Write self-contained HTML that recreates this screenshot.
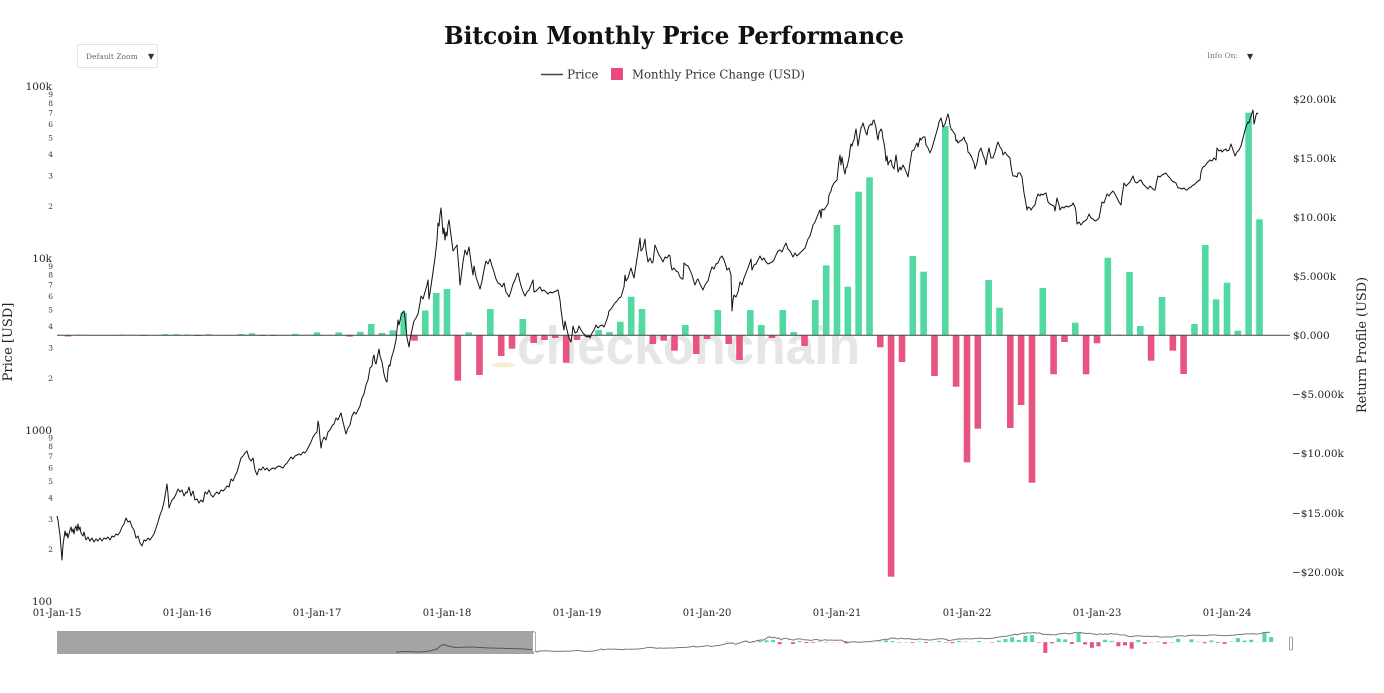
<!DOCTYPE html>
<html><head><meta charset="utf-8"><style>
html,body{margin:0;padding:0;background:#fff;overflow:hidden;}
svg{display:block;font-family:"DejaVu Serif","Liberation Serif",serif;}
</style></head><body>
<svg width="1384" height="693" viewBox="0 0 1384 693" xmlns="http://www.w3.org/2000/svg">
<rect width="1384" height="693" fill="#fff"/>
<!-- Title -->
<text x="444" y="44" font-size="24" font-weight="bold" fill="#111" textLength="460" lengthAdjust="spacingAndGlyphs">Bitcoin Monthly Price Performance</text>
<!-- Default zoom dropdown -->
<rect x="77.5" y="44.5" width="80" height="23" rx="2" fill="#fff" stroke="#e2e2e2"/>
<text x="86" y="59" font-size="7.5" fill="#666">Default Zoom</text>
<text x="148" y="59" font-size="8" fill="#333">▼</text>
<!-- Info On -->
<text x="1207" y="58" font-size="7.5" fill="#777">Info On:</text>
<text x="1247" y="59" font-size="8" fill="#333">▼</text>
<!-- Legend -->
<line x1="541" y1="74.5" x2="563" y2="74.5" stroke="#444" stroke-width="1.5"/>
<text x="567" y="78.5" font-size="12" fill="#333">Price</text>
<rect x="611" y="68" width="12" height="12" rx="1" fill="#e8497a"/>
<text x="632" y="78.5" font-size="12" fill="#333" textLength="173" lengthAdjust="spacingAndGlyphs">Monthly Price Change (USD)</text>

<!-- Watermark -->
<ellipse cx="503" cy="365" rx="12" ry="2.5" fill="#f4e7bd" opacity="0.7"/>
<text x="517" y="364" font-family="Liberation Sans, sans-serif" font-weight="bold" font-size="54" fill="#e6e6e6" textLength="343" lengthAdjust="spacingAndGlyphs">checkonchain</text>

<!-- Left axis labels -->
<g font-size="10.5" fill="#222" text-anchor="end">
<text x="52" y="90">100k</text>
<text x="52" y="262">10k</text>
<text x="52" y="434">1000</text>
<text x="52" y="605">100</text>
</g>
<g font-size="7.5" fill="#333" text-anchor="end">
<text x="53" y="97">9</text><text x="53" y="106">8</text><text x="53" y="115.5">7</text><text x="53" y="127">6</text><text x="53" y="140.5">5</text><text x="53" y="157">4</text><text x="53" y="178.5">3</text><text x="53" y="209">2</text>
<text x="53" y="269">9</text><text x="53" y="277.5">8</text><text x="53" y="287.5">7</text><text x="53" y="299">6</text><text x="53" y="312.5">5</text><text x="53" y="329">4</text><text x="53" y="350.5">3</text><text x="53" y="381">2</text>
<text x="53" y="440.5">9</text><text x="53" y="449">8</text><text x="53" y="459">7</text><text x="53" y="470.5">6</text><text x="53" y="484">5</text><text x="53" y="500.5">4</text><text x="53" y="522">3</text><text x="53" y="552">2</text>
</g>
<text transform="translate(12,342) rotate(-90)" font-size="13" fill="#222" text-anchor="middle">Price [USD]</text>

<!-- Right axis labels -->
<g font-size="10.5" fill="#222">
<text x="1293" y="103">$20.00k</text>
<text x="1293" y="162">$15.00k</text>
<text x="1293" y="221">$10.00k</text>
<text x="1293" y="280">$5.000k</text>
<text x="1293" y="339">$0.000</text>
<text x="1292" y="398">−$5.000k</text>
<text x="1292" y="457">−$10.00k</text>
<text x="1292" y="517">−$15.00k</text>
<text x="1292" y="576">−$20.00k</text>
</g>
<text transform="translate(1366,345) rotate(-90)" font-size="13" fill="#222" text-anchor="middle" textLength="136" lengthAdjust="spacingAndGlyphs">Return Profile (USD)</text>

<!-- X axis labels -->
<g font-size="10" fill="#222" text-anchor="middle">
<text x="57" y="616">01-Jan-15</text>
<text x="187" y="616">01-Jan-16</text>
<text x="317" y="616">01-Jan-17</text>
<text x="447" y="616">01-Jan-18</text>
<text x="577" y="616">01-Jan-19</text>
<text x="707" y="616">01-Jan-20</text>
<text x="837" y="616">01-Jan-21</text>
<text x="967" y="616">01-Jan-22</text>
<text x="1097" y="616">01-Jan-23</text>
<text x="1227" y="616">01-Jan-24</text>
</g>

<defs>
<g id="bars">
<g fill="#52d9a2">
<rect x="75.4" y="334.6" width="6.6" height="0.7"/>
<rect x="118.7" y="334.6" width="6.6" height="0.7"/>
<rect x="129.5" y="334.8" width="6.6" height="0.5"/>
<rect x="162.0" y="334.1" width="6.6" height="1.2"/>
<rect x="172.9" y="334.2" width="6.6" height="1.1"/>
<rect x="183.7" y="334.4" width="6.6" height="0.9"/>
<rect x="205.4" y="334.2" width="6.6" height="1.1"/>
<rect x="227.0" y="334.9" width="6.6" height="0.4"/>
<rect x="237.9" y="334.0" width="6.6" height="1.3"/>
<rect x="248.7" y="333.3" width="6.6" height="2"/>
<rect x="281.2" y="334.9" width="6.6" height="0.4"/>
<rect x="292.0" y="333.9" width="6.6" height="1.4"/>
<rect x="302.9" y="334.8" width="6.6" height="0.5"/>
<rect x="313.7" y="332.4" width="6.6" height="2.9"/>
<rect x="335.4" y="332.4" width="6.6" height="2.9"/>
<rect x="357.0" y="331.8" width="6.6" height="3.5"/>
<rect x="367.9" y="324" width="6.6" height="11.3"/>
<rect x="378.7" y="332.9" width="6.6" height="2.4"/>
<rect x="389.5" y="330.3" width="6.6" height="5"/>
<rect x="400.4" y="312.7" width="6.6" height="22.6"/>
<rect x="422.0" y="310.5" width="6.6" height="24.8"/>
<rect x="432.9" y="293" width="6.6" height="42.3"/>
<rect x="443.7" y="289" width="6.6" height="46.3"/>
<rect x="465.4" y="332.3" width="6.6" height="3"/>
<rect x="487.0" y="309" width="6.6" height="26.3"/>
<rect x="519.5" y="319" width="6.6" height="16.3"/>
<rect x="595.4" y="330" width="6.6" height="5.3"/>
<rect x="606.2" y="332" width="6.6" height="3.3"/>
<rect x="617.0" y="321.7" width="6.6" height="13.6"/>
<rect x="627.9" y="296.7" width="6.6" height="38.6"/>
<rect x="638.7" y="309" width="6.6" height="26.3"/>
<rect x="682.0" y="325" width="6.6" height="10.3"/>
<rect x="714.5" y="310" width="6.6" height="25.3"/>
<rect x="747.0" y="310" width="6.6" height="25.3"/>
<rect x="757.9" y="325" width="6.6" height="10.3"/>
<rect x="779.5" y="310" width="6.6" height="25.3"/>
<rect x="790.4" y="332" width="6.6" height="3.3"/>
<rect x="812.0" y="300" width="6.6" height="35.3"/>
<rect x="822.9" y="265.4" width="6.6" height="69.9"/>
<rect x="833.7" y="225" width="6.6" height="110.3"/>
<rect x="844.5" y="286.7" width="6.6" height="48.6"/>
<rect x="855.3" y="191.7" width="6.6" height="143.6"/>
<rect x="866.2" y="177.3" width="6.6" height="158"/>
<rect x="909.5" y="256" width="6.6" height="79.3"/>
<rect x="920.3" y="271.7" width="6.6" height="63.6"/>
<rect x="942.0" y="126" width="6.6" height="209.3"/>
<rect x="985.3" y="280" width="6.6" height="55.3"/>
<rect x="996.2" y="307.7" width="6.6" height="27.6"/>
<rect x="1039.5" y="288" width="6.6" height="47.3"/>
<rect x="1072.0" y="322.7" width="6.6" height="12.6"/>
<rect x="1104.5" y="257.7" width="6.6" height="77.6"/>
<rect x="1115.3" y="334.5" width="6.6" height="0.8"/>
<rect x="1126.2" y="272" width="6.6" height="63.3"/>
<rect x="1137.0" y="326" width="6.6" height="9.3"/>
<rect x="1158.7" y="297" width="6.6" height="38.3"/>
<rect x="1191.2" y="324" width="6.6" height="11.3"/>
<rect x="1202.0" y="245" width="6.6" height="90.3"/>
<rect x="1212.8" y="299.3" width="6.6" height="36"/>
<rect x="1223.7" y="282.7" width="6.6" height="52.6"/>
<rect x="1234.5" y="330.7" width="6.6" height="4.6"/>
<rect x="1245.3" y="112.7" width="6.6" height="222.6"/>
<rect x="1256.2" y="219.3" width="6.6" height="116"/>
</g>
<g fill="#e75480">
<rect x="64.5" y="335.3" width="6.6" height="1.2"/>
<rect x="140.4" y="335.3" width="6.6" height="0.6"/>
<rect x="194.5" y="335.3" width="6.6" height="0.7"/>
<rect x="259.5" y="335.3" width="6.6" height="0.6"/>
<rect x="270.4" y="335.3" width="6.6" height="0.6"/>
<rect x="346.2" y="335.3" width="6.6" height="1.3"/>
<rect x="411.2" y="335.3" width="6.6" height="5.4"/>
<rect x="454.5" y="335.3" width="6.6" height="45.4"/>
<rect x="476.2" y="335.3" width="6.6" height="39.7"/>
<rect x="497.9" y="335.3" width="6.6" height="20.7"/>
<rect x="508.7" y="335.3" width="6.6" height="13.4"/>
<rect x="530.4" y="335.3" width="6.6" height="7.7"/>
<rect x="541.2" y="335.3" width="6.6" height="4.7"/>
<rect x="552.0" y="335.3" width="6.6" height="2.7"/>
<rect x="562.9" y="335.3" width="6.6" height="27.4"/>
<rect x="573.7" y="335.3" width="6.6" height="4.7"/>
<rect x="584.5" y="335.3" width="6.6" height="1.7"/>
<rect x="649.5" y="335.3" width="6.6" height="8.7"/>
<rect x="660.4" y="335.3" width="6.6" height="5.4"/>
<rect x="671.2" y="335.3" width="6.6" height="15.4"/>
<rect x="692.9" y="335.3" width="6.6" height="18.7"/>
<rect x="703.7" y="335.3" width="6.6" height="3.7"/>
<rect x="725.4" y="335.3" width="6.6" height="8.7"/>
<rect x="736.2" y="335.3" width="6.6" height="24.7"/>
<rect x="768.7" y="335.3" width="6.6" height="2.7"/>
<rect x="801.2" y="335.3" width="6.6" height="10.7"/>
<rect x="877.0" y="335.3" width="6.6" height="12"/>
<rect x="887.8" y="335.3" width="6.6" height="241.4"/>
<rect x="898.7" y="335.3" width="6.6" height="26.7"/>
<rect x="931.2" y="335.3" width="6.6" height="40.7"/>
<rect x="952.8" y="335.3" width="6.6" height="51.4"/>
<rect x="963.7" y="335.3" width="6.6" height="127"/>
<rect x="974.5" y="335.3" width="6.6" height="93.4"/>
<rect x="1007.0" y="335.3" width="6.6" height="92.7"/>
<rect x="1017.8" y="335.3" width="6.6" height="69.7"/>
<rect x="1028.7" y="335.3" width="6.6" height="147.4"/>
<rect x="1050.3" y="335.3" width="6.6" height="39"/>
<rect x="1061.2" y="335.3" width="6.6" height="6.7"/>
<rect x="1082.8" y="335.3" width="6.6" height="39"/>
<rect x="1093.7" y="335.3" width="6.6" height="8"/>
<rect x="1147.8" y="335.3" width="6.6" height="25.4"/>
<rect x="1169.5" y="335.3" width="6.6" height="15.4"/>
<rect x="1180.3" y="335.3" width="6.6" height="38.7"/>
</g>
</g>
<polyline id="price" fill="none" stroke-linejoin="round" vector-effect="non-scaling-stroke" points="57,516 58,520 59,528 60,535 61,548 62,560 63,545 64,538 65,531 66,536 67,533 68,538 69,534 70,530 71,527 72,532 73,529 74,534 75,528 76,526 77,531 78,524 79,530 80,527 81,533 83,536 84,532 86,540 88,537 90,541 92,538 94,542 96,539 98,541 100,538 102,541 104,538 106,539 108,537 110,540 112,536 114,537 116,534 118,535 120,532 122,527 124,524 126,518 128,522 130,521 132,527 134,530 136,538 138,536 140,543 142,546 144,540 146,541 148,538 150,540 152,537 154,534 156,528 158,522 160,515 162,510 164,502 166,490 167,484 168,494 169,508 170,505 172,500 174,498 176,494 178,489 180,492 182,490 184,496 186,492 187,493 189,487 191,496 193,491 195,500 197,499 199,503 201,500 203,502 205,492 207,494 209,490 211,495 213,497 215,494 217,492 219,494 221,490 223,491 225,489 227,486 229,487 231,479 233,481 235,476 237,472 239,465 241,458 243,456 245,453 247,451 249,458 251,461 253,458 255,470 257,475 259,469 261,470 263,467 265,470 267,468 269,471 271,469 273,468 275,469 277,467 279,466 281,467 283,468 285,465 287,463 289,460 291,457 293,459 295,456 297,455 299,454 301,455 303,452 305,453 307,450 309,446 311,442 313,437 315,434 317,432 318,421 319,426 320,438 321,448 322,442 324,437 326,440 328,432 330,430 332,426 334,424 336,418 338,420 340,415 341,413 343,422 345,430 346,434 348,428 350,425 352,416 354,412 356,414 358,410 360,406 362,398 364,394 366,385 368,380 370,368 372,366 373,358 374,355 375,362 376,364 378,354 379,349 380,356 382,362 383,368 384,374 385,378 386,381 387,382 388,370 389,365 390,366 391,360 392,356 393,353 394,349 396,340 398,320 399,325 401,316 402,313 404,311 405,318 407,338 409,347 410,340 412,330 414,321 416,318 418,314 420,303 421,296 423,299 425,292 427,285 428,280 429,299 431,286 433,272 435,258 437,240 438,223 439,226 440,215 441,208 442,220 443,234 444,228 445,240 446,232 447,236 448,225 449,220 451,235 453,251 455,248 457,245 458,258 459,270 460,285 462,270 463,262 465,250 467,255 469,247 471,262 473,275 474,266 476,277 478,283 480,289 482,281 484,270 486,261 488,264 490,259 492,266 494,272 496,279 498,283 500,284 502,287 504,283 506,292 508,295 509,297 511,291 513,284 515,280 517,274 518,273 520,282 522,289 524,294 525,296 527,292 529,290 531,285 533,280 534,292 536,291 538,289 540,287 542,291 544,290 546,292 548,294 550,292 552,293 554,292 556,291 558,290 560,300 561,310 562,317 563,325 564,330 565,321 567,330 569,338 571,342 572,335 573,326 575,333 577,332 579,326 581,330 583,333 585,335 587,337 589,336 590,338 592,333 594,330 596,325 598,328 600,326 602,325 604,327 606,322 608,316 609,311 611,309 613,306 615,303 617,301 619,298 621,297 623,290 624,287 625,275 626,281 628,278 630,271 631,268 633,275 634,278 636,265 638,252 639,245 640,238 641,251 643,248 645,239 646,250 648,262 650,258 652,263 653,262 655,245 657,250 659,255 661,258 663,262 665,257 667,258 669,255 670,256 671,265 672,270 674,268 676,271 678,272 680,277 682,279 683,279 684,263 686,265 688,266 690,270 692,275 694,282 695,285 697,280 698,279 700,284 702,288 703,290 705,285 707,282 708,281 710,273 712,267 714,269 716,264 718,263 720,258 722,256 724,260 726,266 727,270 729,268 731,275 732,311 733,300 734,295 736,297 738,292 740,282 742,285 744,278 746,273 748,268 750,262 751,259 752,270 754,265 756,264 758,260 760,256 762,260 764,258 766,262 768,264 770,263 772,262 774,260 776,255 778,251 780,250 782,252 784,247 786,243 788,249 790,251 792,255 793,257 795,253 797,256 799,254 801,252 803,250 805,248 807,242 808,239 810,236 812,229 813,225 815,222 817,217 819,212 820,210 821,218 822,209 824,210 826,207 828,204 829,195 831,191 832,187 834,183 836,181 837,180 838,170 839,161 840,155 841,165 842,157 843,163 844,170 845,174 846,168 847,167 849,158 850,150 851,144 852,146 853,142 854,140 855,134 856,129 857,137 858,146 859,140 860,133 861,128 862,126 863,123 865,130 866,133 867,135 868,129 869,126 871,124 872,125 873,121 874,120 876,128 877,135 878,140 879,133 881,129 882,131 883,139 884,143 885,150 886,161 887,156 888,165 889,162 891,160 892,165 894,169 895,162 896,155 897,162 898,172 900,167 901,170 903,165 905,169 907,174 908,177 909,170 910,163 912,151 914,150 916,145 917,143 918,147 920,138 921,140 923,137 925,137 926,145 928,148 930,153 932,148 934,141 936,134 938,127 939,122 941,118 942,122 943,127 945,124 947,117 948,114 949,118 950,125 951,129 952,130 954,133 955,134 956,141 957,140 958,143 960,141 962,140 964,137 965,141 967,144 968,152 970,154 972,158 974,163 975,169 977,163 979,152 981,148 983,155 985,160 986,165 987,157 989,148 991,158 993,158 995,152 997,145 998,142 1000,147 1002,150 1003,155 1005,152 1007,155 1009,157 1010,158 1011,166 1012,172 1013,176 1015,176 1017,177 1018,173 1020,173 1022,177 1023,185 1024,193 1025,198 1027,210 1028,207 1030,208 1031,210 1033,207 1035,205 1036,200 1038,194 1040,196 1041,194 1043,195 1044,194 1046,193 1048,202 1050,204 1052,205 1054,206 1055,211 1057,198 1059,205 1060,210 1062,207 1064,208 1066,206 1068,207 1070,206 1072,205 1073,203 1075,207 1076,212 1077,224 1079,222 1081,225 1083,222 1085,221 1087,219 1089,214 1091,218 1093,219 1095,221 1097,220 1099,218 1100,213 1102,202 1104,203 1106,197 1107,194 1109,196 1111,193 1113,191 1115,194 1117,198 1119,202 1121,205 1122,196 1124,183 1126,186 1128,184 1130,182 1132,178 1133,176 1135,182 1137,183 1139,181 1141,180 1143,184 1145,186 1147,188 1148,189 1150,186 1152,188 1154,190 1155,190 1157,180 1158,176 1160,177 1162,175 1164,174 1166,173 1168,176 1170,178 1172,181 1174,182 1176,183 1178,188 1180,188 1182,189 1184,188 1186,190 1187,190 1189,188 1191,187 1193,185 1194,185 1196,183 1198,181 1200,180 1201,172 1202,169 1203,167 1205,166 1207,163 1208,162 1210,160 1212,161 1214,158 1216,160 1217,148 1219,151 1221,150 1222,152 1224,150 1226,149 1227,151 1229,150 1231,144 1233,150 1235,156 1237,152 1239,150 1241,146 1243,138 1245,130 1247,124 1248,122 1249,123 1250,119 1252,113 1253,110 1254,124 1255,120 1256,115 1257,113 1258,114"/>
</defs>

<!-- Main plot -->
<use href="#bars"/>
<line x1="57" y1="335.3" x2="1290" y2="335.3" stroke="#444" stroke-width="1"/>
<use href="#price" stroke="#111" stroke-width="1"/>

<!-- Range slider -->
<g transform="matrix(0.613 0 0 0.0447 499.06 627.16)">
<use href="#bars"/>
<use href="#price" stroke="#7a7a7a" stroke-width="1"/>
</g>
<rect x="57" y="631" width="477" height="23" fill="#a4a4a4"/>
<polyline fill="none" stroke="#555" stroke-width="1" points="396,652 405,651.5 420,652 430,651 437,649 441,645.5 444,644.5 448,646 455,647.5 470,647 490,648 510,648.5 525,649 534,650"/>
<rect x="532.5" y="632" width="3" height="20" rx="1" fill="#fff" stroke="#999" stroke-width="0.8"/>
<rect x="1289.5" y="637" width="3" height="13" rx="1" fill="#fff" stroke="#888" stroke-width="0.8"/>
</svg>
</body></html>
